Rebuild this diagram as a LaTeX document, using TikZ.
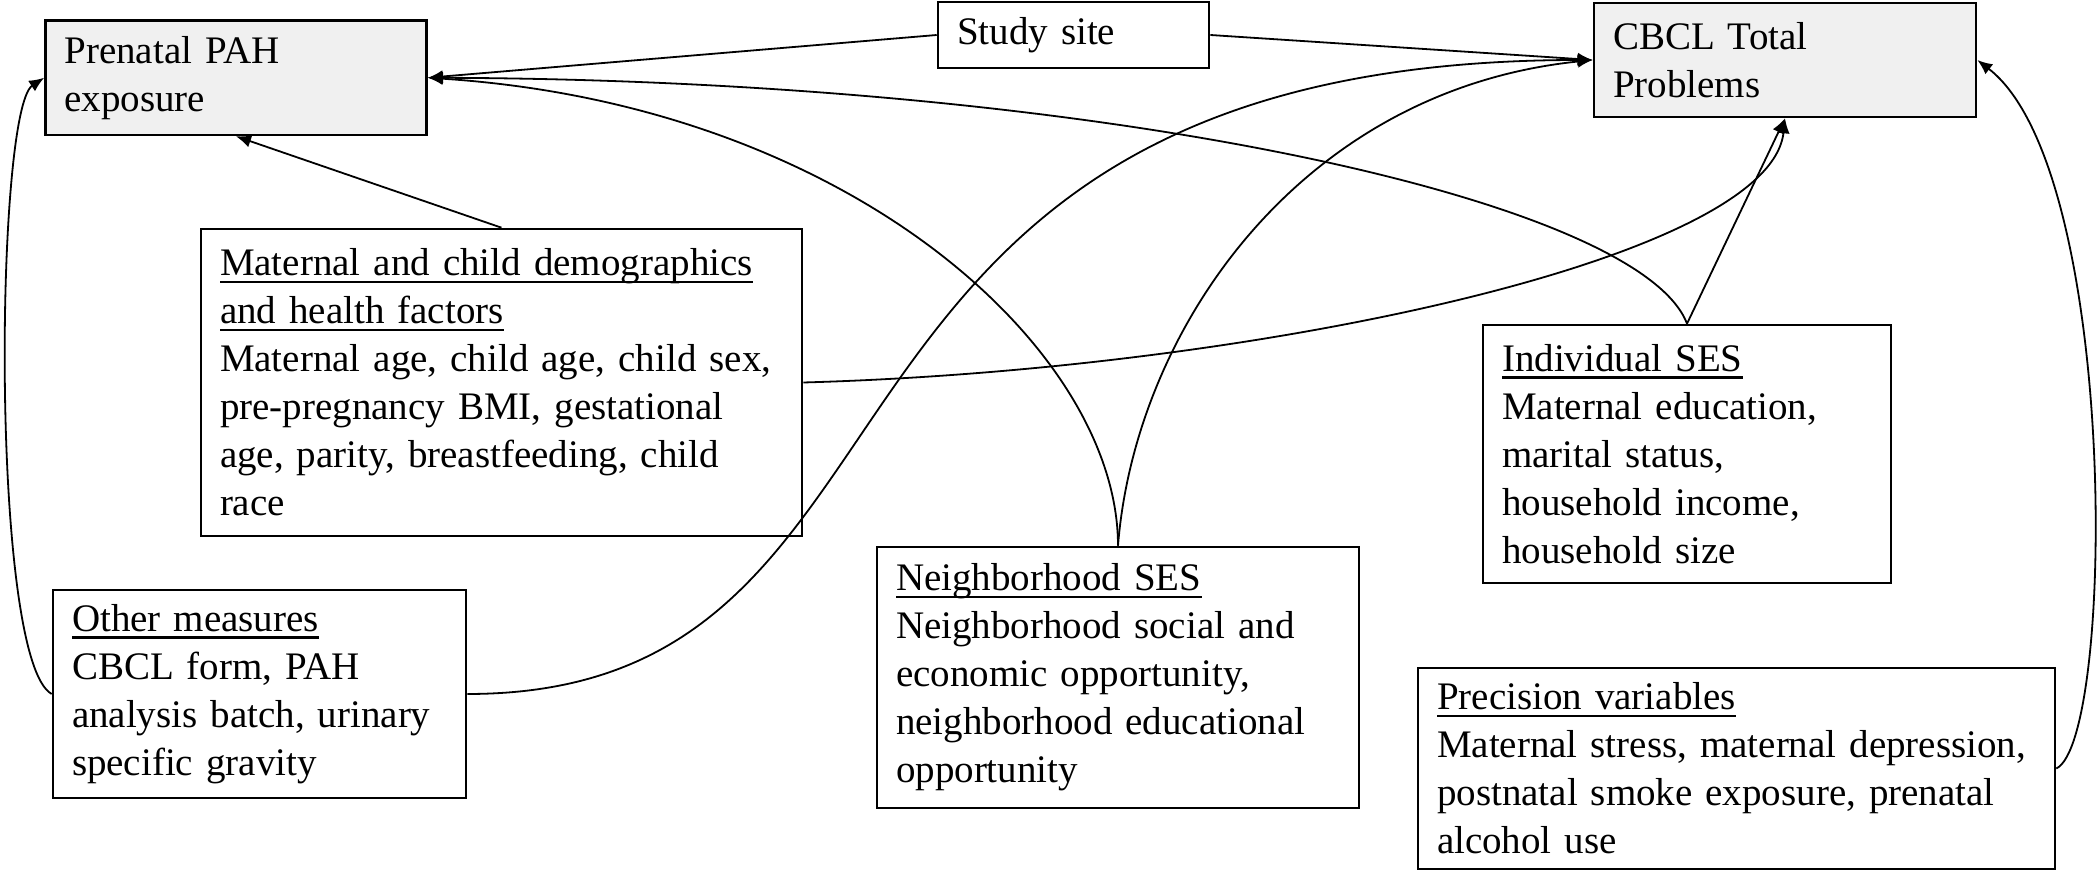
\documentclass[tikz,border=0pt]{standalone}
\usepackage{fontspec}
\setmainfont{Liberation Serif}
\usetikzlibrary{arrows.meta}
\definecolor{boxgray}{HTML}{F0F0F0}
\newcommand{\ulhead}[1]{\leavevmode\setbox0\hbox{#1}\rlap{\rule[-3.6pt]{\wd0}{1.2pt}}\box0}

\begin{document}
\begin{tikzpicture}[x=0.5pt,y=-0.5pt,
  box/.style={draw, line width=1.3pt, align=left, inner xsep=9.5pt, inner ysep=0pt,
    font=\fontsize{19.5}{24}\selectfont},
  outcome/.style={box, fill=boxgray},
  link/.style={line width=0.9pt, -{Latex[length=7.5pt,width=6.3pt]}}]
\useasboundingbox (0,0) rectangle (2100,881);

\node[outcome, text width=171.5pt, minimum height=57.25pt] (pah) at (236,77.75) {Prenatal PAH\\exposure};
\node[box, text width=116.5pt, minimum height=33pt] (site) at (1073.5,35) {Study site};
\node[outcome, text width=172pt, minimum height=57pt] (cbcl) at (1785,60) {CBCL Total\\Problems};
\node[box, text width=281.5pt, minimum height=153.5pt] (mat) at (501.5,382.5)
  {\ulhead{Maternal and child demographics}\\\ulhead{and health factors}\\Maternal age, child age, child sex,\\pre-pregnancy BMI, gestational\\age, parity, breastfeeding, child\\race};
\node[box, text width=185pt, minimum height=129pt] (ind) at (1687,454)
  {\ulhead{Individual SES}\\Maternal education,\\marital status,\\household income,\\household size};
\node[box, text width=187.5pt, minimum height=104pt] (oth) at (259.5,694)
  {\ulhead{Other measures}\\CBCL form, PAH\\analysis batch, urinary\\specific gravity};
\node[box, text width=222pt, minimum height=130.5pt] (nbh) at (1118,677.5)
  {\ulhead{Neighborhood SES}\\Neighborhood social and\\economic opportunity,\\neighborhood educational\\opportunity};
\node[box, text width=299.5pt, minimum height=100.5pt] (prec) at (1736.5,768.5)
  {\ulhead{Precision variables}\\Maternal stress, maternal depression,\\postnatal smoke exposure, prenatal\\alcohol use};

\foreach \From/\To in {site.west/pah.east, site.east/cbcl.west, mat.north/pah.south, ind.north/cbcl.south}
  \draw[link] (\From) -- (\To);

\draw[link] (mat.east) .. controls (1250,370) and (1770,260) .. (cbcl.south);
\draw[link] (ind.north) .. controls (1640,200) and (1100,80) .. (pah.east);
\draw[link] (nbh.north) .. controls (1118,350) and (850,105) .. (pah.east);
\draw[link] (nbh.north) .. controls (1135,330) and (1300,90) .. (cbcl.west);
\draw[link] (oth.east) .. controls (965,694) and (755,60) .. (cbcl.west);
\draw[link] (oth.west) .. controls (-10,660) and (-5,110) .. (pah.west);
\draw[link] (prec.east) .. controls (2115,740) and (2120,170) .. (cbcl.east);
\end{tikzpicture}
\end{document}
